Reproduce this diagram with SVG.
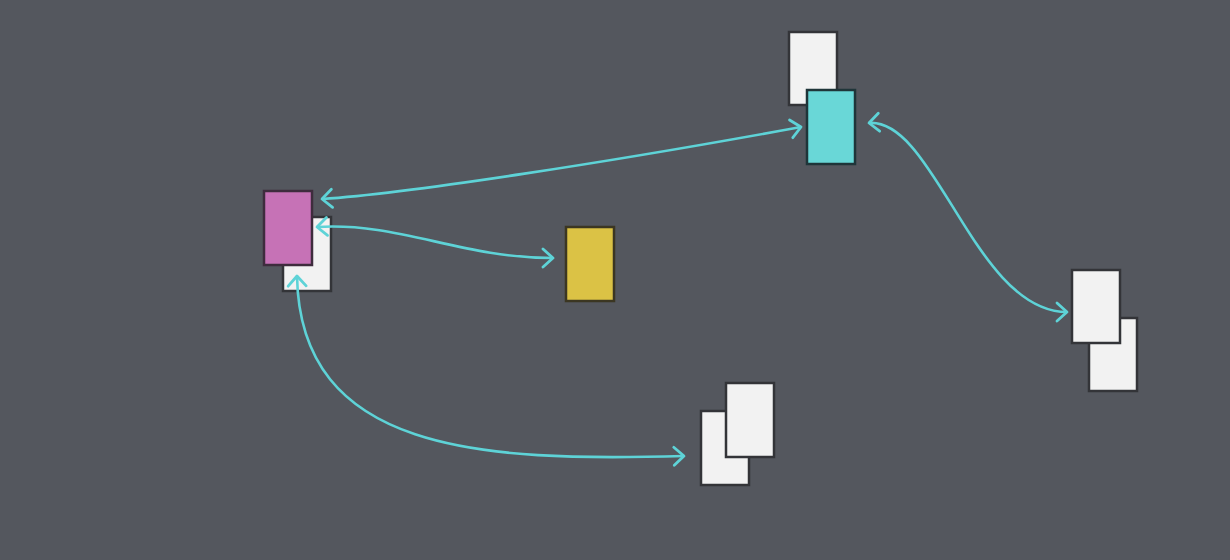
<svg xmlns="http://www.w3.org/2000/svg" width="1230" height="560" viewBox="0 0 1230 560">
<style>
.bg{fill:#54575e}
.card{stroke-width:2.5}
.white{fill:#f2f2f2;stroke:#333438}
.mag{fill:#c672b6;stroke:#3e2c3d}
.cyan{fill:#69d7d7;stroke:#1f3539}
.yel{fill:#dbc245;stroke:#3b3622}
.edge{fill:none;stroke:#5ed3d7;stroke-width:2.6;marker-start:url(#ah);marker-end:url(#ah)}
</style>
<defs>
<marker id="ah" markerUnits="userSpaceOnUse" markerWidth="26" markerHeight="26" viewBox="-13 -13 26 26" refX="0" refY="0" orient="auto-start-reverse" overflow="visible">
<path d="M-10,-9 L0,0 L-10,9" fill="none" stroke="#5ed3d7" stroke-width="2.8" stroke-linecap="round" stroke-linejoin="round"/>
</marker>
</defs>
<rect class="bg" x="0" y="0" width="1230" height="560"/>
<g id="node-magenta">
<rect class="card white" x="283" y="217" width="48" height="74"/>
<rect class="card mag" x="264" y="191" width="48" height="74"/>
</g>
<g id="node-cyan">
<rect class="card white" x="789" y="32" width="48" height="73"/>
<rect class="card cyan" x="807" y="90" width="48" height="74"/>
</g>
<g id="node-yellow">
<rect class="card yel" x="566" y="227" width="48" height="74"/>
</g>
<g id="node-bottom">
<rect class="card white" x="701" y="411" width="48" height="74"/>
<rect class="card white" x="726" y="383" width="48" height="74"/>
</g>
<g id="node-right">
<rect class="card white" x="1089" y="318" width="48" height="73"/>
<rect class="card white" x="1072" y="270" width="48" height="73"/>
</g>
<g id="connectors">
<path class="edge" d="M322,199 C410,193 610,162 801,127"/>
<path class="edge" d="M317,227 C400,222 460,258 553,258"/>
<path class="edge" d="M869,123 C935,118 975,312 1067,312"/>
<path class="edge" d="M297,276 C300,452 480,462 684,456"/>
</g>
</svg>
